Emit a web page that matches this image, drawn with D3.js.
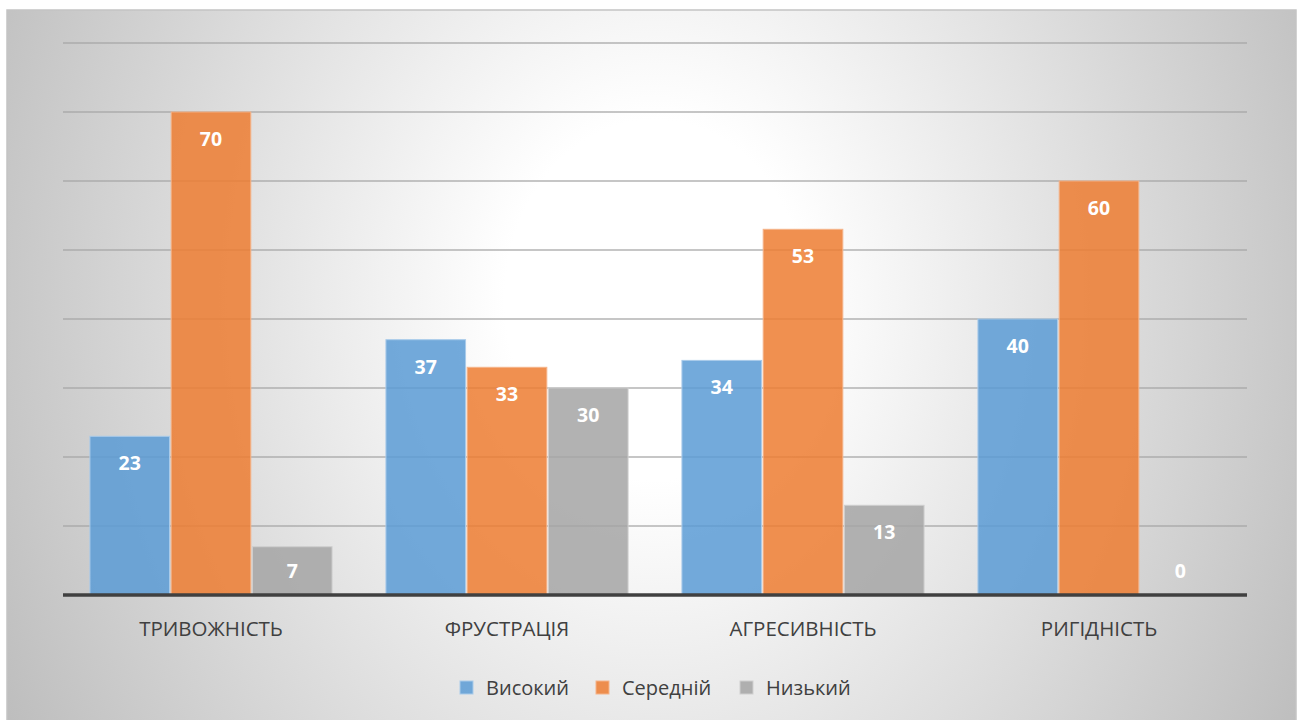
<!DOCTYPE html>
<html>
<head>
<meta charset="utf-8">
<script src="https://cdn.jsdelivr.net/npm/d3@7"></script>
<style>
  html, body { margin: 0; padding: 0; background: #ffffff; }
  svg { display: block; }
</style>
</head>
<body>
<svg id="chart" width="1304" height="720"></svg>
<script>
// Categories and series (percent of respondents by level)
const categories = ["ТРИВОЖНІСТЬ", "ФРУСТРАЦІЯ", "АГРЕСИВНІСТЬ", "РИГІДНІСТЬ"];
const seriesNames = ["Високий", "Середній", "Низький"];
const high = [23, 37, 34, 40];
const medium = [70, 33, 53, 60];
const low = [7, 30, 13, 0];
const gridTicks = [0, 10, 20, 30, 40, 50, 60, 70, 80];

const seriesValues = [high, medium, low];
const fills = ["#5b9bd5", "#ed7d31", "#a5a5a5"];
const strokes = ["#a9cbea", "#f5b48a", "#cfcfcf"];
const FONT = "'Open Sans', 'Noto Sans', sans-serif";

const svg = d3.select("#chart");

// Background panel with soft elliptical radial shading
const defs = svg.append("defs");
const cx = 655, cy = 300, rx = 750, ry = 900;
const rg = defs.append("radialGradient")
  .attr("id", "bg").attr("gradientUnits", "userSpaceOnUse")
  .attr("cx", cx).attr("cy", cy).attr("r", rx)
  .attr("gradientTransform", `translate(${cx},${cy}) scale(1,${ry / rx}) translate(${-cx},${-cy})`);
rg.append("stop").attr("offset", "0").attr("stop-color", "#ffffff");
rg.append("stop").attr("offset", "0.2").attr("stop-color", "#ffffff");
rg.append("stop").attr("offset", "1").attr("stop-color", "#bcbcbc");

svg.append("rect").attr("x", 7).attr("y", 10).attr("width", 1289).attr("height", 720)
  .attr("fill", "url(#bg)").attr("stroke", "#c4c4c4").attr("stroke-width", 1.5);

const x0 = d3.scaleBand().domain(categories).range([63, 1247])
  .paddingInner(0.182).paddingOuter(0.091);
const x1 = d3.scaleBand().domain(seriesNames).range([0, x0.bandwidth()]).paddingInner(0.02);
const y = d3.scaleLinear().domain([0, 80]).range([595, 43]);

// Horizontal gridlines
svg.append("g").selectAll("line").data(gridTicks.filter(d => d > 0)).join("line")
  .attr("x1", 63).attr("x2", 1247)
  .attr("y1", d => y(d)).attr("y2", d => y(d))
  .attr("stroke", "#a6a6a6").attr("stroke-width", 1.3).attr("stroke-opacity", 0.85);

// Bars with value labels inside the top end
const groups = svg.append("g").selectAll("g").data(categories).join("g")
  .attr("transform", c => `translate(${x0(c)},0)`);

groups.each(function(c, ci) {
  const g = d3.select(this);
  seriesNames.forEach((s, si) => {
    const v = seriesValues[si][ci];
    g.append("rect")
      .attr("x", x1(s)).attr("width", x1.bandwidth())
      .attr("y", y(v)).attr("height", y(0) - y(v))
      .attr("fill", fills[si]).attr("fill-opacity", 0.85)
      .attr("stroke", strokes[si]).attr("stroke-width", v > 0 ? 1 : 0);
    g.append("text")
      .attr("x", x1(s) + x1.bandwidth() / 2)
      .attr("y", Math.min(y(v) + 34, y(0) - 17))
      .attr("text-anchor", "middle")
      .attr("font-family", FONT)
      .attr("font-weight", 700).attr("font-size", 19.5)
      .attr("fill", "#ffffff")
      .text(v);
  });
});

// Category axis
svg.append("line").attr("x1", 63).attr("x2", 1247).attr("y1", y(0)).attr("y2", y(0))
  .attr("stroke", "#404040").attr("stroke-width", 3.5);

svg.append("g").selectAll("text").data(categories).join("text")
  .attr("x", c => x0(c) + x0.bandwidth() / 2)
  .attr("y", 636)
  .attr("text-anchor", "middle")
  .attr("font-family", FONT)
  .attr("font-size", 20.5).attr("fill", "#404040")
  .text(c => c);

// Legend
const legendX = [460, 596, 740];
const legend = svg.append("g").selectAll("g").data(seriesNames).join("g")
  .attr("transform", (d, i) => `translate(${legendX[i]},681)`);
legend.append("rect").attr("width", 13).attr("height", 13)
  .attr("fill", (d, i) => fills[i]).attr("fill-opacity", 0.85)
  .attr("stroke", (d, i) => strokes[i]).attr("stroke-width", 1);
legend.append("text").attr("x", 26).attr("y", 14)
  .attr("font-family", FONT)
  .attr("font-size", 20).attr("fill", "#404040")
  .text(d => d);
</script>
</body>
</html>
